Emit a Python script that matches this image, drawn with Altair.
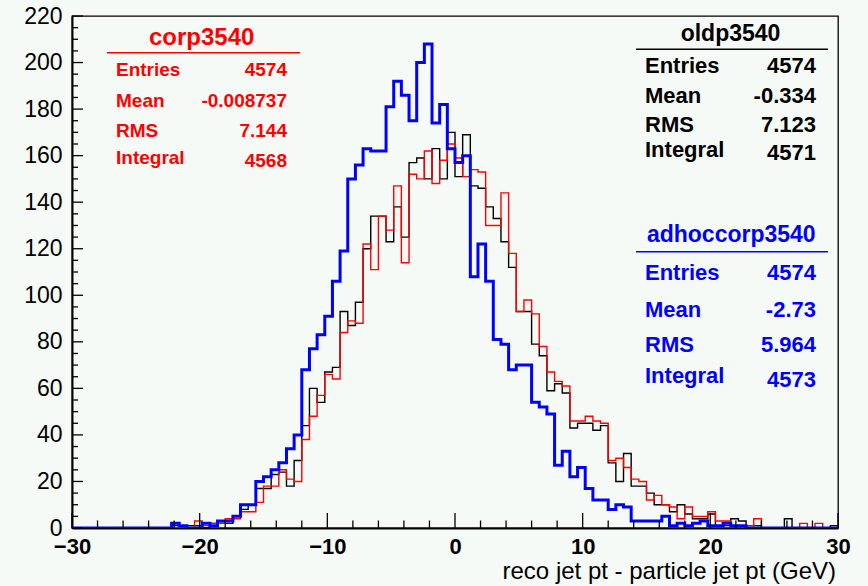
import altair as alt
import numpy as np
import pandas as pd

FONT = "Liberation Sans"

# ---------------- data ----------------
X_MIN, X_MAX, N_BINS = -30, 30, 100

oldp3540 = [
    0, 0, 0, 0, 0, 0, 0, 0, 0, 0,
    0, 0, 0, 1, 0, 1, 1, 0, 2, 2,
    2, 5, 8, 10, 17, 17, 23, 24, 18, 29,
    44, 60, 54, 67, 69, 93, 87, 97, 120, 134,
    134, 123, 138, 125, 157, 159, 150, 163, 150, 170,
    151, 169, 147, 146, 138, 133, 123, 112, 93, 93,
    79, 74, 59, 62, 58, 43, 45, 45, 42, 44,
    28, 20, 32, 18, 18, 15, 10, 10, 7, 10,
    6, 4, 4, 6, 1, 1, 4, 3, 1, 1,
    0, 0, 0, 4, 0, 0, 0, 0, 0, 1,
]

corp3540 = [
    0, 0, 0, 0, 0, 0, 0, 0, 0, 0,
    0, 0, 0, 0, 0, 0, 3, 1, 2, 2,
    4, 4, 7, 7, 11, 18, 18, 25, 21, 20,
    38, 48, 57, 66, 64, 84, 89, 88, 122, 111,
    134, 128, 147, 114, 152, 150, 162, 148, 158, 165,
    159, 151, 154, 153, 130, 130, 144, 118, 93, 98,
    92, 78, 67, 63, 61, 46, 46, 48, 46, 45,
    29, 30, 26, 21, 20, 12, 14, 10, 9, 4,
    9, 5, 5, 7, 3, 3, 1, 1, 1, 4,
    0, 0, 0, 0, 0, 2, 0, 2, 0, 0,
]

adhoccorp3540 = [
    0, 0, 0, 0, 0, 0, 0, 0, 0, 0,
    0, 0, 0, 2, 1, 0, 0, 2, 1, 3,
    3, 5, 10, 10, 20, 22, 25, 28, 34, 40,
    68, 77, 83, 91, 106, 119, 150, 156, 163, 162,
    162, 181, 192, 186, 175, 200, 208, 174, 182, 163,
    157, 160, 108, 122, 106, 81, 79, 68, 70, 70,
    54, 52, 49, 27, 33, 22, 26, 17, 12, 12,
    8, 10, 9, 3, 3, 3, 3, 5, 1, 2,
    1, 2, 3, 1, 1, 2, 1, 1, 0, 0,
    0, 0, 0, 0, 0, 0, 0, 0, 0, 0,
]

stat_names = ["corp3540", "oldp3540", "adhoccorp3540"]
stat_entries = ["4574", "4574", "4574"]
stat_means = ["-0.008737", "-0.334", "-2.73"]
stat_rms = ["7.144", "7.123", "5.964"]
stat_integrals = ["4568", "4571", "4573"]

x_tick_labels = [-30, -20, -10, 0, 10, 20, 30]
y_tick_labels = [0, 20, 40, 60, 80, 100, 120, 140, 160, 180, 200, 220]
x_title = "reco jet pt - particle jet pt (GeV)"

# ---------------- layout ----------------
W, H = 766, 512
BG = "#f6faf7"

edges = np.linspace(X_MIN, X_MAX, N_BINS + 1)


def hist_df(counts):
    return pd.DataFrame({"x": edges, "y": list(counts) + [counts[-1]]})


xs = alt.Scale(domain=[X_MIN, X_MAX], nice=False, zero=False)
ys = alt.Scale(domain=[0, 220], nice=False, zero=True)

x_axis = alt.Axis(
    values=x_tick_labels, ticks=False, grid=False, title=None,
    domain=True, domainColor="black", domainWidth=2,
    labelFont=FONT, labelFontSize=22, labelFontWeight="bold",
    labelColor="black", labelPadding=8, labelFlush=False,
    labelOverlap=False, format="d")
y_axis = alt.Axis(
    values=y_tick_labels, ticks=False, grid=False, title=None,
    domain=True, domainColor="black", domainWidth=2,
    labelFont=FONT, labelFontSize=23, labelColor="black",
    labelPadding=10, labelOverlap=False, format="d")


def hist_layer(counts, color, width):
    return alt.Chart(hist_df(counts)).mark_line(
        interpolate="step-after", color=color, strokeWidth=width,
        clip=True).encode(
        x=alt.X("x:Q", scale=xs, axis=x_axis),
        y=alt.Y("y:Q", scale=ys, axis=y_axis))


# tick marks drawn inward (ROOT style)
x_major = list(range(X_MIN, X_MAX + 1, 10))
x_minor = [v for v in range(X_MIN, X_MAX + 1, 2) if v % 10 != 0]
y_major = list(range(0, 221, 20))
y_minor = [v for v in range(0, 221, 5) if v % 20 != 0]


def xticks(vals, length):
    return alt.Chart(pd.DataFrame({"x": vals})).mark_rule(
        color="black", strokeWidth=1.3).encode(
        x=alt.X("x:Q", scale=xs, axis=x_axis),
        y=alt.value(H), y2=alt.value(H - length))


def yticks(vals, length):
    return alt.Chart(pd.DataFrame({"y": vals})).mark_rule(
        color="black", strokeWidth=1.3).encode(
        y=alt.Y("y:Q", scale=ys, axis=y_axis),
        x=alt.value(0), x2=alt.value(length))


one = pd.DataFrame({"a": [0]})


def txt(text, x, y, color, size, align="left", weight="bold"):
    return alt.Chart(one).mark_text(
        text=text, align=align, baseline="alphabetic", font=FONT,
        fontSize=size, fontWeight=weight, color=color).encode(
        x=alt.value(x), y=alt.value(y))


def hline(x1, x2, y, color):
    return alt.Chart(one).mark_rule(color=color, strokeWidth=1.5).encode(
        x=alt.value(x1), x2=alt.value(x2), y=alt.value(y))


def stat_box(i, color, cx, title_y, line_x1, line_x2, line_y, lx, rx,
             label_ys, value_ys, title_size, size):
    layers = [txt(stat_names[i], cx, title_y, color, title_size, align="center"),
              hline(line_x1, line_x2, line_y, color)]
    labels = ["Entries", "Mean", "RMS", "Integral"]
    values = [stat_entries[i], stat_means[i], stat_rms[i], stat_integrals[i]]
    for lab, val, ly, vy in zip(labels, values, label_ys, value_ys):
        layers.append(txt(lab, lx, ly, color, size))
        layers.append(txt(val, rx, vy, color, size, align="right"))
    return layers


layers = [
    hist_layer(oldp3540, "black", 1.4),
    hist_layer(corp3540, "#ff0000", 1.4),
    hist_layer(adhoccorp3540, "#0000ff", 3),
    xticks(x_major, 15), xticks(x_minor, 7.5),
    yticks(y_major, 11), yticks(y_minor, 6),
]
layers += stat_box(0, "#ff0000", 129.7, 29, 35, 228, 36.7, 44, 215,
                   [60, 91, 121, 147.5], [60, 91, 121, 150.7], 24, 19)
layers += stat_box(1, "black", 658.5, 24.7, 564, 756, 33.3, 573, 744,
                   [57.3, 86.7, 115.7, 140.7], [57.3, 86.7, 115.7, 144], 23, 22)
layers += stat_box(2, "#0000ff", 659.3, 225.7, 564, 756, 235.7, 573, 744,
                   [264, 300.7, 335.7, 367], [264, 300.7, 335.7, 370.7], 23, 22)
layers.append(txt(x_title, 764, 563, "black", 24, align="right", weight="normal"))

chart = alt.layer(*layers).properties(
    width=W, height=H,
    autosize=alt.AutoSizeParams(type="none"),
    padding={"left": 72, "top": 16, "right": 30, "bottom": 58},
    background=BG,
).configure_view(stroke="black", strokeWidth=1.3)

chart.save("out.html", embed_options={"renderer": "svg", "actions": False})
